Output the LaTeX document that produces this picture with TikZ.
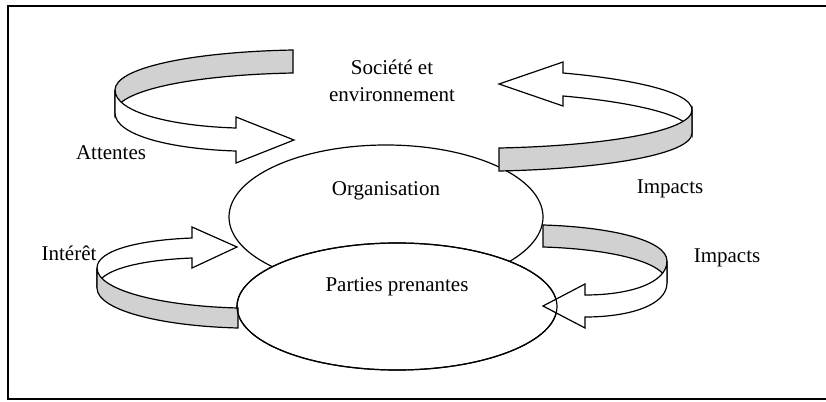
\documentclass[tikz,border=0pt]{standalone}
\usepackage{fontspec}
\setmainfont{Liberation Serif}
\begin{document}
\begin{tikzpicture}[x=1pt, y=-1pt,
  outline/.style={draw=black, line width=1.2pt, line join=miter},
  backface/.style={outline, fill=black!18},
  frontface/.style={outline, fill=white},
  disc/.style={outline, fill=white},
  label/.style={font=\fontsize{21}{25}\selectfont, anchor=base, inner sep=0pt}]
  \useasboundingbox (0,0) rectangle (826,401);

  % frame (open on the right)
  \draw[line width=1.4pt] (826,6) -- (8,6) -- (8,399) -- (826,399);

  % the two discs; the lower one hides the bottom of the upper one
  \draw[disc] (386,217) ellipse [x radius=157, y radius=72];
  \draw[disc] (397,306.5) ellipse [x radius=160, y radius=63.5];

  % curved band: expectations of society
  \draw[backface] (293,50) .. controls (190,52) and (115,68) .. (115,90)
    -- (115,113) .. controls (115,91) and (190,75) .. (293,73) -- cycle;
  \draw[frontface] (115,90) .. controls (115,112) and (170,126) .. (236,128)
    -- (236,117) -- (294,140) -- (236,163) -- (236,151)
    .. controls (170,149) and (115,135) .. (115,113) -- cycle;

  % curved band: impacts on society
  \draw[frontface] (692,110) .. controls (692,90) and (620,78) .. (563,73)
    -- (563,62) -- (499,84) -- (563,106) -- (563,96)
    .. controls (620,101) and (692,113) .. (692,133) -- cycle;
  \draw[backface] (692,110) .. controls (692,132) and (600,146) .. (499,148)
    -- (499,171) .. controls (600,169) and (692,155) .. (692,133) -- cycle;

  % curved band: interest of stakeholders
  \draw[frontface] (97,268) .. controls (97,250) and (140,240) .. (192,238)
    -- (192,227) -- (237,247) -- (192,268) -- (192,258)
    .. controls (140,260) and (97,270) .. (97,288) -- cycle;
  \draw[backface] (97,268) .. controls (97,290) and (160,306) .. (238,308)
    -- (238,328) .. controls (160,326) and (97,310) .. (97,288) -- cycle;

  % curved band: impacts on stakeholders
  \draw[backface] (543,225) .. controls (610,227) and (667,240) .. (667,261)
    -- (667,283) .. controls (667,262) and (610,249) .. (543,247) -- cycle;
  \draw[frontface] (667,261) .. controls (667,283) and (630,295) .. (585,295)
    -- (585,284) -- (543,306) -- (585,328) -- (585,317)
    .. controls (630,317) and (667,305) .. (667,283) -- cycle;

  % outline of the lower disc stays visible across the arrow tip
  \draw[outline] (397,306.5) ellipse [x radius=160, y radius=63.5];

  % labels
  \node[label] (soc1) at (392,75) {Société et};
  \node[label] (soc2) at (392,102) {environnement};
  \node[label] (org) at (386,195) {Organisation};
  \node[label] (pp) at (397,291) {Parties prenantes};
  \node[label] (att) at (111,159) {Attentes};
  \node[label] (imp1) at (670,193) {Impacts};
  \node[label] (int) at (69,260) {Intérêt};
  \node[label] (imp2) at (727,262) {Impacts};
\end{tikzpicture}
\end{document}
